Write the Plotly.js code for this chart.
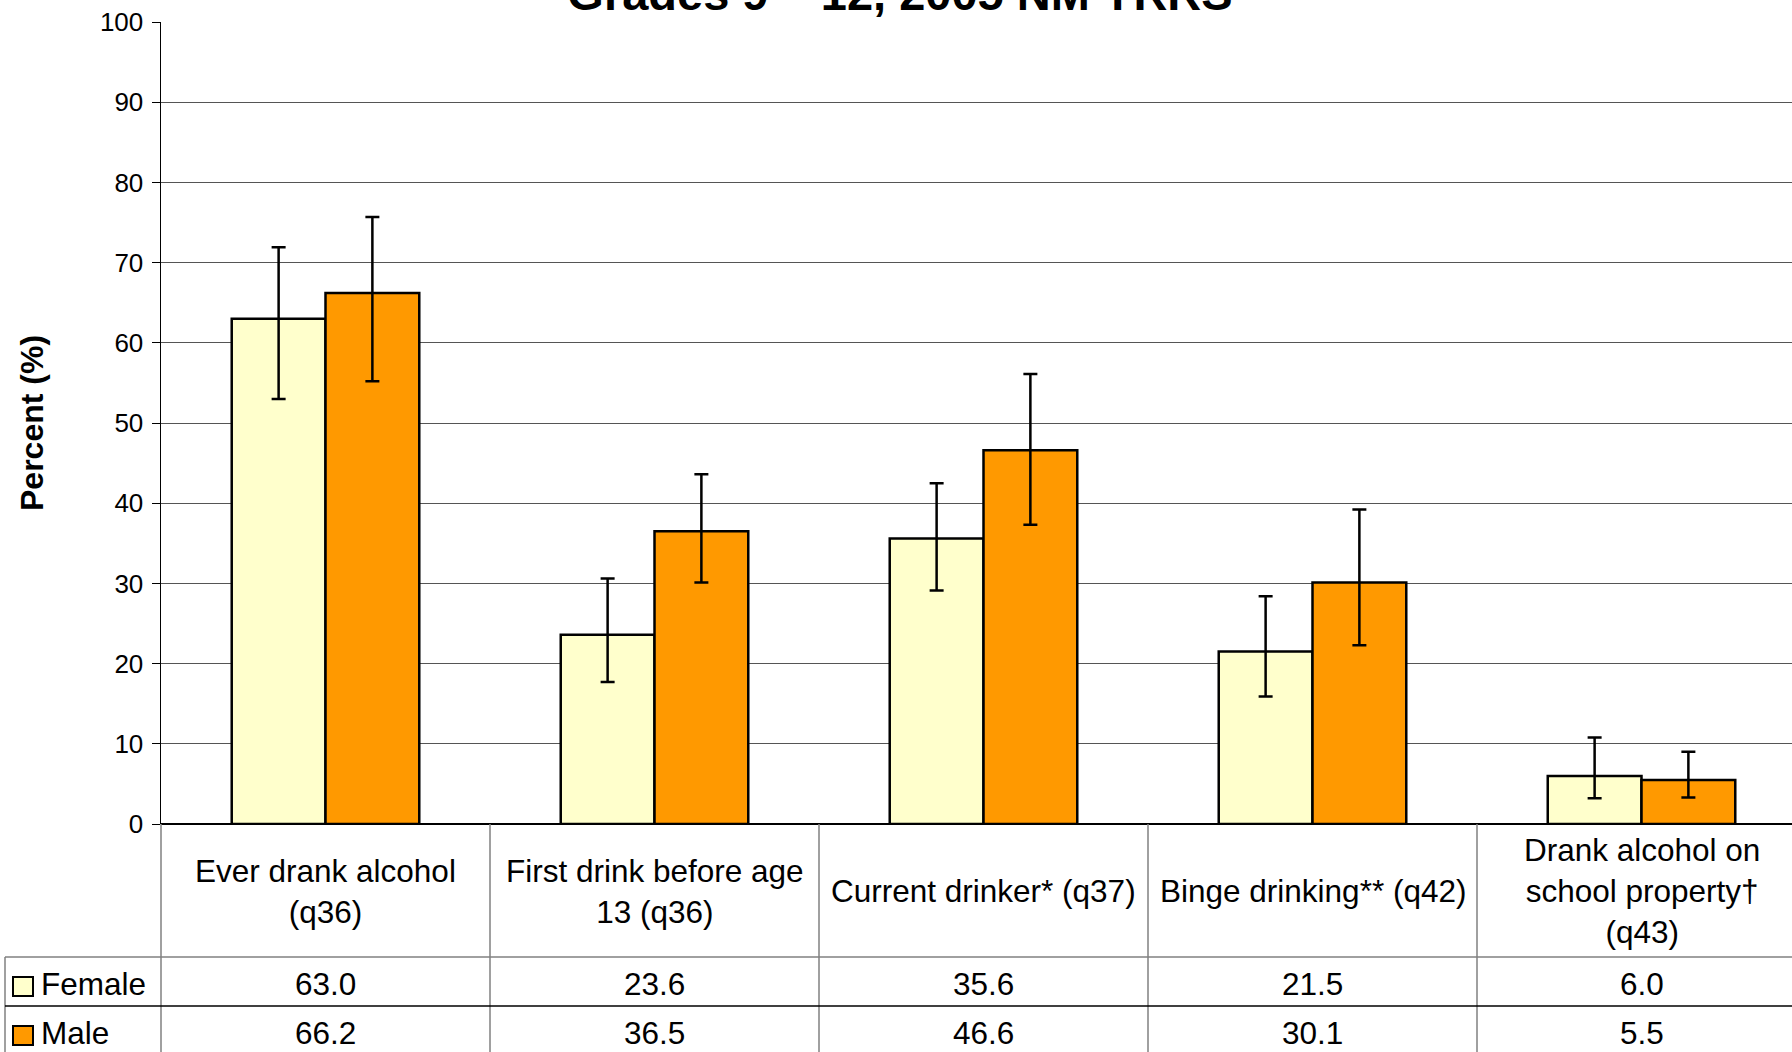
<!DOCTYPE html>
<html>
<head>
<meta charset="utf-8">
<script src="https://cdn.plot.ly/plotly-3.0.1.min.js"></script>
<style>html,body{margin:0;padding:0;background:#fff;}#chart{width:1792px;height:1052px;}</style>
</head>
<body>
<div id="chart"></div>
<script>
// ---- Data ----
const categories = [
  "Ever drank alcohol<br>(q36)",
  "First drink before age<br>13 (q36)",
  "Current drinker* (q37)",
  "Binge drinking** (q42)",
  "Drank alcohol on<br>school property†<br>(q43)"
];
const seriesNames = ["Female", "Male"];
const female = [63.0, 23.6, 35.6, 21.5, 6.0];
const male = [66.2, 36.5, 46.6, 30.1, 5.5];
// 95% confidence interval bounds
const femaleUpper = [71.9, 30.6, 42.5, 28.4, 10.8];
const femaleLower = [53.0, 17.7, 29.1, 15.9, 3.2];
const maleUpper = [75.7, 43.6, 56.1, 39.2, 9.0];
const maleLower = [55.2, 30.1, 37.3, 22.3, 3.3];
const yTicks = [0, 10, 20, 30, 40, 50, 60, 70, 80, 90, 100];
const titleText = "Grades 9 – 12, 2005 NM YRRS";
const yTitle = "Percent (%)";

// ---- Styling / layout geometry ----
const FONT = "Liberation Sans, Arial, sans-serif";
const W = 1792, H = 1052;
const ML = 161, MT = 22, MB = 228;
const plotH = H - MT - MB;      // 802
const plotW = W - ML;           // 1631
const catW = 329;               // pixels per category in the reference
const xIdx = categories.map((_, i) => i);
const colors = ["#FFFFCC", "#FF9900"];

function py(pix) { return (H - MB - pix) / plotH; }   // pixel y -> paper y
function px(pix) { return (pix - ML) / plotW; }       // pixel x -> paper x

const errStyle = {type: "data", symmetric: false, color: "#000", thickness: 2.5, width: 7};

const traces = [
  {
    type: "bar", name: seriesNames[0], x: xIdx, y: female,
    marker: {color: colors[0], line: {color: "#000", width: 2.5}},
    error_y: Object.assign({}, errStyle, {
      array: female.map((v, i) => femaleUpper[i] - v),
      arrayminus: female.map((v, i) => v - femaleLower[i])
    }),
    hoverinfo: "skip"
  },
  {
    type: "bar", name: seriesNames[1], x: xIdx, y: male,
    marker: {color: colors[1], line: {color: "#000", width: 2.5}},
    error_y: Object.assign({}, errStyle, {
      array: male.map((v, i) => maleUpper[i] - v),
      arrayminus: male.map((v, i) => v - maleLower[i])
    }),
    hoverinfo: "skip"
  }
];

const shapes = [];
const annotations = [];
const tableBottom = py(H + 5);
const rowTop = py(957), rowMid = py(1006);

// column separators in the data table
for (let i = 0; i < categories.length; i++) {
  shapes.push({type: "line", xref: "x", yref: "paper", x0: i + 0.5, x1: i + 0.5,
    y0: 0, y1: tableBottom, line: {color: "#808080", width: 1.5}, layer: "above"});
}
// left y-axis continuation through the table
shapes.push({type: "line", xref: "paper", yref: "paper", x0: 0, x1: 0, y0: 0, y1: tableBottom,
  line: {color: "#808080", width: 1.5}, layer: "above"});
// left border of legend column
shapes.push({type: "line", xref: "paper", yref: "paper", x0: px(5), x1: px(5), y0: rowTop, y1: tableBottom,
  line: {color: "#808080", width: 1.5}, layer: "above"});
// row lines
shapes.push({type: "line", xref: "paper", yref: "paper", x0: px(5), x1: 1, y0: rowTop, y1: rowTop,
  line: {color: "#808080", width: 1.5}, layer: "above"});
shapes.push({type: "line", xref: "paper", yref: "paper", x0: px(5), x1: 1, y0: rowMid, y1: rowMid,
  line: {color: "#000", width: 1.5}, layer: "above"});
// legend keys
[[977, 996], [1026, 1045]].forEach((r, k) => {
  shapes.push({type: "rect", xref: "paper", yref: "paper", x0: px(13), x1: px(33), y0: py(r[1]), y1: py(r[0]),
    fillcolor: colors[k], line: {color: "#000", width: 2}, layer: "above"});
});

// category labels
categories.forEach((c, i) => {
  annotations.push({xref: "x", yref: "paper", x: i, y: py(891), text: c, showarrow: false,
    xanchor: "center", yanchor: "middle", align: "center",
    font: {family: FONT, size: 31.5, color: "#000"}});
});
// table values
[female, male].forEach((arr, k) => {
  const yc = k === 0 ? 984 : 1033;
  arr.forEach((v, i) => {
    annotations.push({xref: "x", yref: "paper", x: i, y: py(yc), text: v.toFixed(1), showarrow: false,
      xanchor: "center", yanchor: "middle", font: {family: FONT, size: 31.5, color: "#000"}});
  });
  annotations.push({xref: "paper", yref: "paper", x: px(39), y: py(yc), text: seriesNames[k], showarrow: false,
    xanchor: "left", yanchor: "middle", font: {family: FONT, size: 31.5, color: "#000"}});
});
// y axis title
annotations.push({xref: "paper", yref: "paper", x: px(32), y: 0.5, text: "<b>" + yTitle + "</b>", textangle: -90,
  showarrow: false, xanchor: "center", yanchor: "middle", font: {family: FONT, size: 32, color: "#000"}});

const layout = {
  width: W, height: H,
  margin: {l: ML, r: 0, t: MT, b: MB, pad: 0},
  paper_bgcolor: "#fff", plot_bgcolor: "#fff",
  showlegend: false,
  barmode: "group", bargap: 0.43, bargroupgap: 0,
  title: {text: titleText, xref: "container", yref: "container", x: 900 / W, xanchor: "center",
    y: 1 - 9.5 / H, yanchor: "bottom", font: {family: FONT, size: 47, weight: 700, color: "#000"}},
  xaxis: {range: [-0.5, -0.5 + plotW / catW], showticklabels: false, ticks: "", showgrid: false,
    zeroline: false, showline: false, fixedrange: true},
  yaxis: {range: [0, 100], tickvals: yTicks, ticktext: yTicks.map(String), ticks: "outside", ticklen: 8,
    tickcolor: "#000", tickwidth: 1, showline: true, linecolor: "#000", linewidth: 1.5,
    showgrid: true, gridcolor: "#555", gridwidth: 1, zeroline: true, zerolinecolor: "#000", zerolinewidth: 1.5,
    tickfont: {family: FONT, size: 26, color: "#000"}, ticklabelstandoff: 3, fixedrange: true,
    title: {text: ""}},
  shapes: shapes,
  annotations: annotations
};

Plotly.newPlot("chart", traces, layout, {staticPlot: true, displayModeBar: false});
</script>
</body>
</html>
